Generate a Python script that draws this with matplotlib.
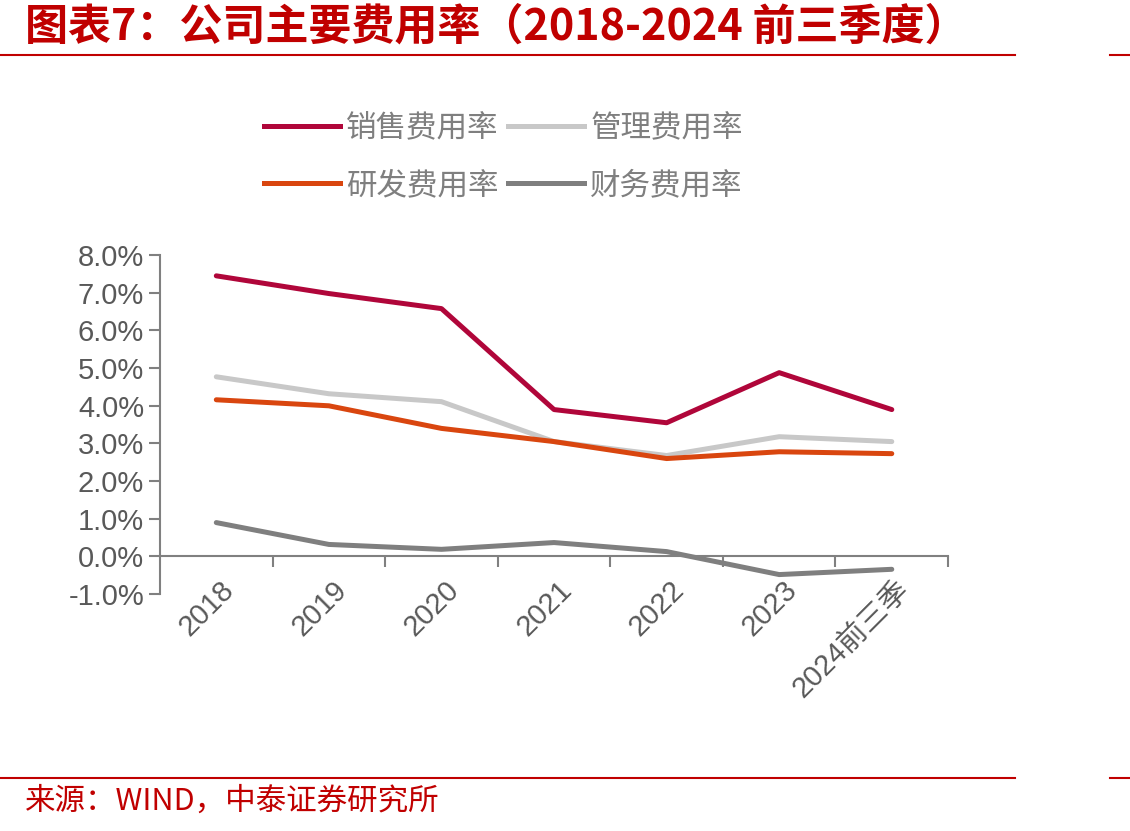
import matplotlib
matplotlib.use('Agg')
import matplotlib.pyplot as plt
from matplotlib.lines import Line2D

plt.rcParams['font.family'] = ['Liberation Sans', 'Noto Sans CJK SC', 'DejaVu Sans']

# 数据（百分比）
years = ['2018', '2019', '2020', '2021', '2022', '2023', '2024前三季']
sales = [7.45, 6.98, 6.58, 3.90, 3.55, 4.88, 3.90]
admin = [4.77, 4.32, 4.11, 3.05, 2.68, 3.18, 3.05]
rnd = [4.16, 4.00, 3.40, 3.05, 2.60, 2.78, 2.73]
finance = [0.90, 0.32, 0.19, 0.37, 0.13, -0.48, -0.34]

names = ['销售费用率', '管理费用率', '研发费用率', '财务费用率']
colors = ['#B0063A', '#C8C8C8', '#D9460F', '#7F7F7F']
red = '#C00000'
grey = '#595959'

fig = plt.figure(figsize=(11.3, 8.31), dpi=100)
ax = fig.add_axes([0.1416, 0.285, 0.6974, 0.408])

x = list(range(len(years)))
for vals, c, n in zip([sales, admin, rnd, finance], colors, names):
    ax.plot(x, vals, color=c, lw=3.6, label=n, solid_capstyle='round')

ax.set_xlim(-0.5, len(years) - 0.5)
ax.set_ylim(-1, 8)
ax.set_yticks(range(-1, 9))
ax.set_yticklabels([f'{v:.1f}%' for v in range(-1, 9)], fontsize=21, color=grey)

# x轴在0处，刻度在类别之间
ax.spines['bottom'].set_position(('data', 0))
for s in ['top', 'right']:
    ax.spines[s].set_visible(False)
ax.spines['bottom'].set_color('#808080')
ax.spines['left'].set_color('#808080')
ax.spines['bottom'].set_linewidth(1.5)
ax.spines['left'].set_linewidth(1.5)
ax.set_xticks([i + 0.5 for i in x])
ax.set_xticklabels([])
ax.tick_params(axis='x', direction='out', length=8, color='#808080', width=1.5)
ax.tick_params(axis='y', direction='out', length=8, color='#808080', width=1.5)

# x标签放在轴下方
for i, lab in enumerate(years):
    ax.text(i + 0.03, -0.5, lab, rotation=45, ha='right', va='top', fontsize=21,
            color=grey, rotation_mode='anchor', transform=ax.transData)

# 图例：第一行 销售/管理，第二行 研发/财务
order = [0, 2, 1, 3]
handles = [Line2D([], [], color=colors[k], lw=3.6) for k in order]
fig.legend(handles, [names[k] for k in order],
           ncol=2, loc='upper left', bbox_to_anchor=(0.209, 0.897), frameon=False,
           handlelength=2.5, handletextpad=0.2, columnspacing=0.3,
           labelspacing=0.85, labelcolor='#7F7F7F',
           prop={'family': ['Noto Sans CJK SC'], 'size': 22})

# 标题与来源
fig.text(0.022, 0.968, '图表7：公司主要费用率（2018-2024 前三季度）', fontsize=31,
         color=red, fontweight='bold', style='italic', va='center',
         family=['Noto Sans CJK SC'])
fig.add_artist(Line2D([0, 0.898], [0.934, 0.934], color=red, lw=1.5))
fig.add_artist(Line2D([0.982, 1], [0.934, 0.934], color=red, lw=1.5))
fig.add_artist(Line2D([0, 0.898], [0.064, 0.064], color=red, lw=1.5))
fig.add_artist(Line2D([0.982, 1], [0.064, 0.064], color=red, lw=1.5))
fig.text(0.022, 0.036, '来源：WIND，中泰证券研究所', fontsize=22, color=red, va='center',
         family=['Noto Sans CJK SC'])

fig.savefig('out.png', dpi=100)
